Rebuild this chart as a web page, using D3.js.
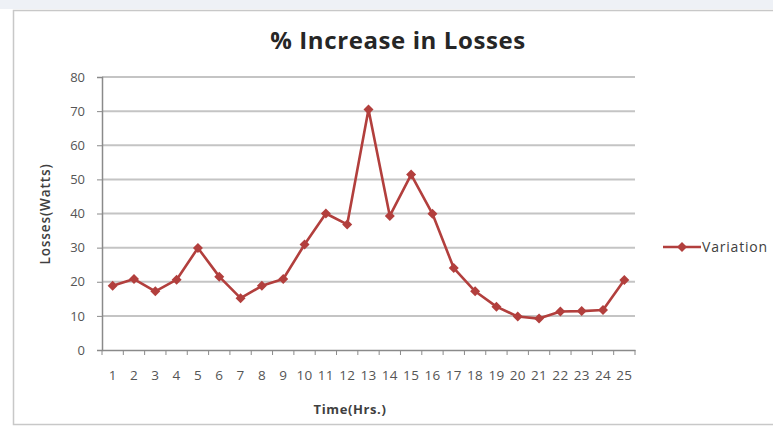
<!DOCTYPE html>
<html>
<head>
<meta charset="utf-8">
<script src="https://cdn.jsdelivr.net/npm/d3@7"></script>
<style>
  body { margin: 0; background: #fff; }
  svg { display: block; }
</style>
</head>
<body>
<div id="chart"></div>
<script>
// chart values
var hours = ["1","2","3","4","5","6","7","8","9","10","11","12","13","14","15","16","17","18","19","20","21","22","23","24","25"];
var variation = [18.8, 20.8, 17.2, 20.6, 29.9, 21.5, 15.2, 18.8, 20.8, 30.9, 40, 36.8, 70.5, 39.3, 51.4, 39.9, 24, 17.2, 12.7, 9.8, 9.2, 11.3, 11.4, 11.7, 20.5];
var yTicks = [0, 10, 20, 30, 40, 50, 60, 70, 80];

var W = 773, H = 434;
var margin = {top: 77, right: 138, bottom: 84, left: 102},
  width = W - margin.left - margin.right,
  height = H - margin.top - margin.bottom;

var lineColor = "#b23f3d";
var textFont = "'Open Sans', sans-serif";

var svg = d3.select("#chart").append("svg")
  .attr("width", W)
  .attr("height", H);

// faint blurred strip along the top like the scan
svg.append("rect")
  .attr("x", 0).attr("y", 0).attr("width", W).attr("height", 9)
  .attr("fill", "#eef1f6");

// chart area border
svg.append("rect")
  .attr("x", 13.5).attr("y", 10.5).attr("width", W + 10).attr("height", 414)
  .attr("fill", "#fff")
  .attr("stroke", "#c8c8c8")
  .attr("stroke-width", 1.5);

svg.append("text")
  .attr("x", 398)
  .attr("y", 49)
  .attr("text-anchor", "middle")
  .attr("font-family", textFont)
  .attr("font-weight", "bold")
  .attr("font-size", "24px")
  .attr("letter-spacing", "0.6px")
  .attr("fill", "#262626")
  .text("% Increase in Losses");

var g = svg.append("g")
  .attr("transform", "translate(" + margin.left + "," + margin.top + ")");

var x = d3.scaleBand()
  .domain(hours)
  .range([0, width])
  .padding(0);

var y = d3.scaleLinear()
  .domain([0, 80])
  .range([height, 0]);

// gridlines
g.append("g")
  .selectAll("line")
  .data(yTicks.filter(function (d) { return d > 0; }))
  .enter().append("line")
  .attr("x1", 0)
  .attr("x2", width)
  .attr("y1", function (d) { return y(d); })
  .attr("y2", function (d) { return y(d); })
  .attr("stroke", "#c4c4c4")
  .attr("stroke-width", 2);

// y axis
var yAxis = g.append("g")
  .call(d3.axisLeft(y).tickValues(yTicks).tickSize(5).tickPadding(12));
yAxis.select(".domain").attr("stroke", "#8a8a8a").attr("stroke-width", 1.5);
yAxis.selectAll(".tick line").attr("stroke", "#8a8a8a");
yAxis.selectAll("text")
  .attr("font-family", textFont)
  .attr("font-size", "13px")
  .attr("fill", "#555");

// x axis, ticks on category boundaries
var xAxis = g.append("g")
  .attr("transform", "translate(0," + height + ")")
  .call(d3.axisBottom(x).tickSize(0).tickPadding(20));
xAxis.select(".domain").attr("stroke", "#8a8a8a").attr("stroke-width", 1.5);
xAxis.selectAll("text")
  .attr("font-family", textFont)
  .attr("font-size", "13.5px")
  .attr("letter-spacing", "0.3px")
  .attr("fill", "#555");
xAxis.append("g")
  .selectAll("line")
  .data(hours.concat(["end"]))
  .enter().append("line")
  .attr("x1", function (d, i) { return i * x.step(); })
  .attr("x2", function (d, i) { return i * x.step(); })
  .attr("y1", 0)
  .attr("y2", 5)
  .attr("stroke", "#8a8a8a");

// axis titles
svg.append("text")
  .attr("x", 350)
  .attr("y", 414)
  .attr("text-anchor", "middle")
  .attr("font-family", textFont)
  .attr("font-weight", "bold")
  .attr("font-size", "13px")
  .attr("letter-spacing", "0.6px")
  .attr("fill", "#404040")
  .text("Time(Hrs.)");

svg.append("text")
  .attr("transform", "translate(50,214) rotate(-90)")
  .attr("text-anchor", "middle")
  .attr("font-family", textFont)
  .attr("font-weight", "600")
  .attr("font-size", "13.5px")
  .attr("letter-spacing", "0.9px")
  .attr("fill", "#404040")
  .text("Losses(Watts)");

// series line
var cx = function (d, i) { return x(hours[i]) + x.bandwidth() / 2; };

var line = d3.line()
  .x(cx)
  .y(function (d) { return y(d); });

g.append("path")
  .datum(variation)
  .attr("fill", "none")
  .attr("stroke", lineColor)
  .attr("stroke-width", 2.6)
  .attr("stroke-linejoin", "round")
  .attr("d", line);

// square diamond marker
var diamond = "M0,-5L5,0L0,5L-5,0Z";

g.selectAll(".pt")
  .data(variation)
  .enter().append("path")
  .attr("class", "pt")
  .attr("transform", function (d, i) { return "translate(" + cx(d, i) + "," + y(d) + ")"; })
  .attr("d", diamond)
  .attr("fill", lineColor);

// legend
var legend = svg.append("g").attr("transform", "translate(663,247)");
legend.append("line")
  .attr("x1", 0).attr("x2", 38)
  .attr("stroke", lineColor)
  .attr("stroke-width", 2.6);
legend.append("path")
  .attr("transform", "translate(19,0)")
  .attr("d", diamond)
  .attr("fill", lineColor);
legend.append("text")
  .attr("x", 39)
  .attr("y", 5)
  .attr("font-family", textFont)
  .attr("font-size", "14px")
  .attr("letter-spacing", "0.8px")
  .attr("fill", "#404040")
  .text("Variation");
</script>
</body>
</html>
